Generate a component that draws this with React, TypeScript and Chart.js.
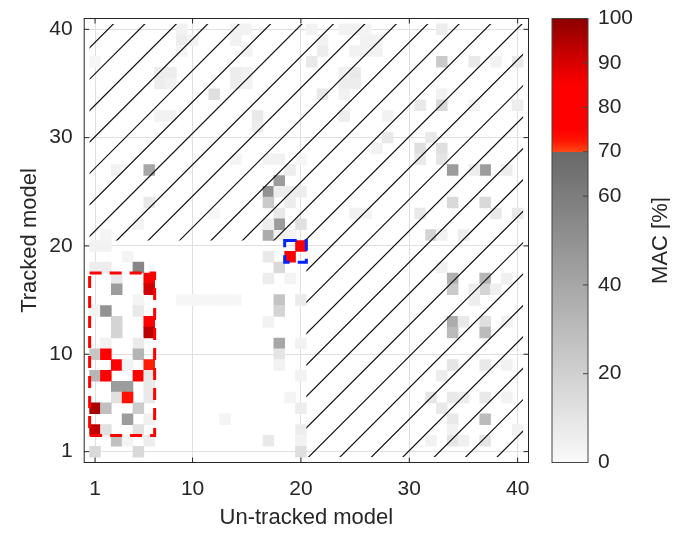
import React, { useEffect, useRef } from "react";
import { Chart, registerables } from "chart.js";

Chart.register(...registerables);

const FONT = "'Liberation Sans', Arial, Helvetica, sans-serif";
const TEXT = "#262626";

const MODEL_TICKS = [1, 10, 20, 30, 40];
const MODEL_MIN = 0;
const MODEL_MAX = 41;
const MAC_TICKS = [0, 20, 40, 60, 70, 80, 90, 100];
const X_TITLE = "Un-tracked model";
const Y_TITLE = "Tracked model";
const CB_TITLE = "MAC [%]";

// [un-tracked model (col), tracked model (row), MAC %]
const LOWER_LEFT_CELLS = [
  [1, 20, 4], [2, 20, 4], [4, 19, 3], [1, 18, 6], [2, 18, 6], [5, 18, 55],
  [3, 17, 8], [6, 17, 86], [3, 16, 45], [6, 16, 91], [5, 15, 3],
  [1, 14, 4], [2, 14, 50], [5, 14, 8], [3, 13, 18], [6, 13, 82],
  [3, 12, 18], [6, 12, 94], [2, 11, 4], [5, 11, 7],
  [1, 10, 25], [2, 10, 80], [5, 10, 33], [3, 9, 80], [4, 9, 4], [6, 9, 72],
  [1, 8, 33], [2, 8, 80], [5, 8, 80], [6, 8, 8], [3, 7, 45], [4, 7, 45], [6, 7, 8],
  [3, 6, 12], [4, 6, 73], [6, 6, 8], [1, 5, 96], [2, 5, 28], [5, 5, 22],
  [4, 4, 45], [6, 4, 5], [1, 3, 93], [2, 3, 12], [5, 3, 12],
  [3, 2, 28], [4, 2, 3], [6, 2, 6], [1, 1, 16], [5, 1, 16],
];

const MIDDLE_CELLS = [
  [17, 21, 38], [18, 21, 4], [19, 21, 3], [20, 20, 80], [19, 19, 82],
  [17, 19, 8], [18, 18, 16], [17, 17, 6], [19, 17, 3],
  [18, 15, 26], [20, 15, 7], [18, 14, 18],
  [9, 15, 2], [10, 15, 2], [11, 15, 2], [12, 15, 2], [13, 15, 2], [14, 15, 2],
  [17, 13, 4], [18, 11, 40], [18, 10, 10], [20, 11, 4], [18, 9, 4], [20, 8, 4],
  [19, 6, 3], [20, 5, 6], [13, 4, 3], [20, 3, 6], [17, 2, 8], [20, 2, 4], [20, 1, 13],
];

const UPPER_MIDDLE_CELLS = [
  [18, 28, 4], [20, 28, 2], [17, 28, 4], [19, 27, 6], [18, 26, 45],
  [17, 25, 50], [18, 25, 6], [19, 25, 6], [20, 25, 6],
  [17, 24, 23], [19, 24, 6], [18, 23, 8], [18, 22, 45], [17, 22, 6], [20, 22, 12],
];

const UPPER_LEFT_CELLS = [
  [9, 40, 4], [14, 40, 4], [15, 40, 4], [9, 39, 6], [10, 39, 4], [14, 39, 4],
  [9, 38, 3], [15, 38, 4], [1, 37, 2],
  [7, 36, 6], [8, 36, 6], [14, 36, 6], [15, 36, 4],
  [7, 35, 6], [8, 35, 4], [14, 35, 6], [15, 35, 4],
  [12, 34, 13], [7, 32, 4], [8, 32, 4], [16, 32, 8], [16, 31, 6], [14, 28, 3],
  [3, 27, 4], [6, 27, 40], [6, 24, 8], [2, 21, 3], [5, 22, 3], [12, 23, 2],
];

const UPPER_RIGHT_CELLS = [
  [21, 40, 4], [24, 40, 4], [25, 40, 4], [26, 40, 3], [33, 40, 6],
  [22, 39, 4], [26, 39, 4], [27, 39, 4],
  [22, 38, 6], [25, 38, 4], [26, 38, 4], [27, 38, 4],
  [21, 37, 8], [33, 37, 23], [36, 37, 8], [38, 37, 4], [40, 37, 8],
  [24, 36, 4], [25, 36, 8], [24, 35, 6], [25, 35, 6],
  [22, 34, 8], [24, 34, 4], [33, 34, 4],
  [31, 33, 8], [33, 33, 16], [36, 33, 4], [40, 33, 6],
  [24, 32, 6], [28, 32, 4], [28, 30, 8], [32, 30, 8],
  [27, 29, 4], [31, 29, 13], [33, 29, 13], [31, 28, 8], [33, 28, 10],
  [34, 27, 45], [37, 27, 45], [36, 27, 6], [39, 27, 6],
  [34, 24, 16], [37, 24, 16],
];

const LOWER_RIGHT_CELLS = [
  [25, 23, 4], [26, 23, 4], [31, 23, 8], [38, 23, 8], [40, 23, 8],
  [32, 21, 18], [35, 21, 6], [33, 21, 4], [33, 18, 4],
  [34, 17, 35], [37, 17, 32], [39, 17, 5],
  [34, 16, 23], [37, 16, 18], [36, 16, 6], [38, 16, 5], [36, 15, 6],
  [34, 13, 38], [35, 13, 8], [37, 13, 13], [39, 13, 4],
  [34, 12, 30], [37, 12, 30],
  [34, 9, 10], [37, 9, 8], [39, 9, 4], [33, 8, 6],
  [32, 6, 10], [34, 6, 8], [35, 6, 6], [37, 6, 8], [39, 6, 4],
  [33, 5, 8], [34, 4, 8], [37, 4, 30], [34, 3, 4], [40, 3, 4],
  [34, 2, 10], [37, 2, 10], [32, 2, 4], [35, 2, 5],
];

const ALL_CELLS = [
  ...LOWER_LEFT_CELLS, ...MIDDLE_CELLS, ...UPPER_MIDDLE_CELLS,
  ...UPPER_LEFT_CELLS, ...UPPER_RIGHT_CELLS, ...LOWER_RIGHT_CELLS,
];

// hatched areas [xMin, xMax, yMin, yMax]
const HATCH_REGIONS = [
  [0.5, 20.5, 20.5, 40.5],
  [20.5, 40.5, 0.5, 40.5],
];
const HATCH_FIRST = 37.8;
const HATCH_STEP = 2.9;
const HATCH_COUNT = 28;

// highlighted boxes [xMin, xMax, yMin, yMax]
const RED_BOX = [0.5, 6.5, 2.5, 17.5];
const BLUE_BOX = [18.5, 20.5, 18.5, 20.5];

// colormap stops [MAC %, rgb]
const COLOR_STOPS: [number, number[]][] = [
  [0, [250, 250, 250]],
  [70, [104, 104, 104]],
  [70, [255, 70, 20]],
  [72.5, [255, 20, 0]],
  [75, [255, 0, 0]],
  [85, [255, 0, 0]],
  [100, [139, 0, 0]],
];

function macColor(v: number): string {
  for (let i = 0; i < COLOR_STOPS.length - 1; i++) {
    const [a, ca] = COLOR_STOPS[i];
    const [b, cb] = COLOR_STOPS[i + 1];
    if (b > a && v >= a && v <= b) {
      const t = (v - a) / (b - a);
      const c = ca.map((x, k) => Math.round(x + (cb[k] - x) * t));
      return `rgb(${c.join(",")})`;
    }
  }
  return "rgb(139,0,0)";
}

const overlayPlugin = {
  id: "overlay",
  afterDatasetsDraw(chart: any) {
    const { ctx, chartArea: a, scales } = chart;
    const xs = scales.x;
    const ys = scales.y;
    const px = (v: number) => xs.getPixelForValue(v);
    const py = (v: number) => ys.getPixelForValue(v);

    // hatching
    ctx.save();
    ctx.beginPath();
    HATCH_REGIONS.forEach(([x0, x1, y0, y1]) => {
      ctx.rect(px(x0), py(y1), px(x1) - px(x0), py(y0) - py(y1));
    });
    ctx.clip();
    ctx.strokeStyle = "#111";
    ctx.lineWidth = 1.2;
    ctx.beginPath();
    for (let k = 0; k < HATCH_COUNT; k++) {
      const c = HATCH_FIRST - k * HATCH_STEP;
      ctx.moveTo(px(-5), py(-5 + c));
      ctx.lineTo(px(50), py(50 + c));
    }
    ctx.stroke();
    ctx.restore();

    // dashed boxes
    const box = (b: number[], color: string) => {
      ctx.save();
      ctx.strokeStyle = color;
      ctx.lineWidth = 3;
      ctx.setLineDash([12, 8]);
      ctx.strokeRect(px(b[0]), py(b[3]), px(b[1]) - px(b[0]), py(b[2]) - py(b[3]));
      ctx.restore();
    };
    box(RED_BOX, "#ff0000");
    box(BLUE_BOX, "#0022ff");

    // frame and inner ticks
    ctx.save();
    ctx.strokeStyle = TEXT;
    ctx.lineWidth = 1;
    ctx.strokeRect(a.left, a.top, a.right - a.left, a.bottom - a.top);
    const len = 5;
    ctx.beginPath();
    MODEL_TICKS.forEach((t) => {
      const X = px(t);
      ctx.moveTo(X, a.bottom);
      ctx.lineTo(X, a.bottom - len);
      ctx.moveTo(X, a.top);
      ctx.lineTo(X, a.top + len);
      const Y = py(t);
      ctx.moveTo(a.left, Y);
      ctx.lineTo(a.left + len, Y);
      ctx.moveTo(a.right, Y);
      ctx.lineTo(a.right - len, Y);
    });
    ctx.stroke();
    ctx.restore();
  },
};

const colorbarPlugin = {
  id: "colorbarDeco",
  afterDatasetsDraw(chart: any) {
    const { ctx, chartArea: a, scales } = chart;
    const ys = scales.y;
    ctx.save();
    ctx.strokeStyle = "#444";
    ctx.lineWidth = 1;
    ctx.strokeRect(a.left, a.top, a.right - a.left, a.bottom - a.top);
    ctx.beginPath();
    MAC_TICKS.forEach((t) => {
      const Y = ys.getPixelForValue(t);
      ctx.moveTo(a.right, Y);
      ctx.lineTo(a.right - 5, Y);
    });
    ctx.stroke();
    ctx.fillStyle = TEXT;
    ctx.font = `22px ${FONT}`;
    ctx.textAlign = "center";
    ctx.textBaseline = "middle";
    ctx.translate(113, (a.top + a.bottom) / 2);
    ctx.rotate(-Math.PI / 2);
    ctx.fillText(CB_TITLE, 0, 0);
    ctx.restore();
  },
};

function fixedTicks(values: number[]) {
  return (scale: any) => {
    scale.ticks = values.map((v) => ({ value: v }));
  };
}

function fixSize(prop: "width" | "height", size: number) {
  return (s: any) => {
    s[prop] = size;
    s.paddingTop = 0;
    s.paddingBottom = 0;
    s.paddingLeft = 0;
    s.paddingRight = 0;
  };
}

export default function App() {
  const mainRef = useRef<HTMLCanvasElement>(null);
  const cbRef = useRef<HTMLCanvasElement>(null);

  useEffect(() => {
    const tickFont = { family: FONT, size: 21 };
    const titleFont = { family: FONT, size: 22 };

    const main = new Chart(mainRef.current as HTMLCanvasElement, {
      type: "bar",
      data: {
        datasets: [
          {
            data: ALL_CELLS.map(([c, r, v]) => ({ x: c, y: [r - 0.5, r + 0.5], v })) as any,
            backgroundColor: (ctx: any) => macColor(ctx.raw ? ctx.raw.v : 0),
            borderWidth: 0,
            barPercentage: 1,
            categoryPercentage: 1,
          },
        ],
      },
      options: {
        responsive: false,
        animation: false,
        events: [],
        layout: { padding: { top: 10.5, right: 19.5, left: 0, bottom: 0 } },
        plugins: { legend: { display: false }, tooltip: { enabled: false } },
        scales: {
          x: {
            type: "linear",
            min: MODEL_MIN,
            max: MODEL_MAX,
            offset: false,
            afterBuildTicks: fixedTicks(MODEL_TICKS),
            afterFit: fixSize("height", 68.5),
            ticks: { font: tickFont, color: TEXT, padding: 14, maxRotation: 0, autoSkip: false },
            grid: { color: "#e0e0e0", lineWidth: 1, drawTicks: false, offset: false },
            border: { display: false },
            title: {
              display: true,
              text: X_TITLE,
              font: titleFont,
              color: TEXT,
              padding: { top: 0, bottom: 0 },
            },
          },
          y: {
            type: "linear",
            min: MODEL_MIN,
            max: MODEL_MAX,
            afterBuildTicks: fixedTicks(MODEL_TICKS),
            afterFit: fixSize("width", 76.2),
            ticks: { font: tickFont, color: TEXT, padding: 11.5, autoSkip: false },
            grid: { color: "#e0e0e0", lineWidth: 1, drawTicks: false },
            border: { display: false },
            title: {
              display: true,
              text: Y_TITLE,
              font: titleFont,
              color: TEXT,
              padding: { top: 8.8, bottom: 0 },
            },
          },
        },
      } as any,
      plugins: [overlayPlugin],
    });

    const cb = new Chart(cbRef.current as HTMLCanvasElement, {
      type: "bar",
      data: {
        labels: ["MAC"],
        datasets: [
          {
            data: [[0, 100]] as any,
            backgroundColor: (c: any) => {
              const ch = c.chart;
              const ys = ch.scales && ch.scales.y;
              if (!ch.chartArea || !ys) return "#888";
              const g = ch.ctx.createLinearGradient(0, ys.getPixelForValue(0), 0, ys.getPixelForValue(100));
              COLOR_STOPS.forEach(([v, col]) => g.addColorStop(v / 100, `rgb(${col.join(",")})`));
              return g;
            },
            borderWidth: 0,
            barPercentage: 1,
            categoryPercentage: 1,
          },
        ],
      },
      options: {
        responsive: false,
        animation: false,
        events: [],
        layout: { padding: { left: 4, top: 10.5, bottom: 68.5, right: 0 } },
        plugins: { legend: { display: false }, tooltip: { enabled: false } },
        scales: {
          x: { display: false },
          y: {
            position: "right",
            min: 0,
            max: 100,
            afterBuildTicks: fixedTicks(MAC_TICKS),
            afterFit: fixSize("width", 82),
            ticks: { font: tickFont, color: TEXT, padding: 10, autoSkip: false },
            grid: { display: false, drawTicks: false },
            border: { display: false },
          },
        },
      } as any,
      plugins: [colorbarPlugin],
    });

    return () => {
      main.destroy();
      cb.destroy();
    };
  }, []);

  return (
    <div style={{ position: "relative", width: 662, height: 523, background: "#fff" }}>
      <canvas ref={mainRef} width={540} height={523} style={{ position: "absolute", left: 0, top: 0 }} />
      <canvas ref={cbRef} width={122} height={523} style={{ position: "absolute", left: 540, top: 0 }} />
    </div>
  );
}
